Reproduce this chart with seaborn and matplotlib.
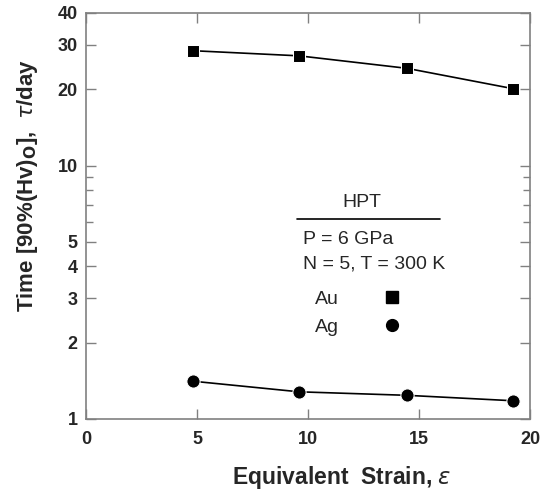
import matplotlib
matplotlib.use("Agg")
import matplotlib.pyplot as plt
from matplotlib.lines import Line2D
from matplotlib.ticker import FixedLocator, NullFormatter
import numpy as np
import pandas as pd
import seaborn as sns

strain = [4.8, 9.6, 14.45, 19.25]
au_time = [28.4, 27.1, 24.2, 20.1]
ag_time = [1.41, 1.28, 1.24, 1.18]
yticks = [1, 2, 3, 4, 5, 10, 20, 30, 40]
yminor = [6, 7, 8, 9]
xticks = [0, 5, 10, 15, 20]

df = pd.DataFrame({
    "strain": strain * 2,
    "time": au_time + ag_time,
    "metal": ["Au"] * 4 + ["Ag"] * 4,
})

sns.set_style("ticks")
plt.rcParams["font.family"] = ["Liberation Sans", "DejaVu Sans"]

fig = plt.figure(figsize=(5.53, 4.92), dpi=100)
ax = fig.add_axes([0.1555, 0.1484, 0.8029, 0.8252])

sns.lineplot(data=df[df.metal == "Au"], x="strain", y="time", color="black",
             marker="s", markersize=9, linewidth=1.2, ax=ax)
sns.lineplot(data=df[df.metal == "Ag"], x="strain", y="time", color="black",
             marker="o", markersize=9.5, linewidth=1.2, ax=ax)

ax.set_yscale("log")
ax.set_xlim(0, 20)
ax.set_ylim(1, 40)
ax.yaxis.set_major_locator(FixedLocator(yticks))
ax.yaxis.set_minor_locator(FixedLocator(yminor))
ax.yaxis.set_minor_formatter(NullFormatter())
ax.set_yticklabels([str(t) for t in yticks])
ax.set_xticks(xticks)
ax.set_xticklabels([str(t) for t in xticks])

for s in ax.spines.values():
    s.set_color("#808080")
    s.set_linewidth(1.2)
ax.tick_params(which="both", direction="in", top=True, right=True,
               color="#808080", labelsize=13)
ax.tick_params(axis="x", pad=9)
ax.tick_params(axis="y", pad=6)
ax.tick_params(which="major", length=7, width=1)
ax.tick_params(which="minor", length=5, width=1)
for lab in ax.get_xticklabels() + ax.get_yticklabels():
    lab.set_fontweight("bold")

ax.set_xlabel(r"Equivalent  Strain, $\mathit{\varepsilon}$", fontsize=16.5,
              fontweight="bold")
ax.xaxis.set_label_coords(0.577, -0.145)
ax.xaxis.label.set_va("center")
ax.set_ylabel(r"Time [90%(Hv)$_\mathbf{O}$],  $\mathit{\tau}$/day", fontsize=16,
              fontweight="bold")
ax.yaxis.set_label_coords(-0.131, 0.576)
ax.yaxis.label.set_va("center")

ax.text(0.622, 0.532, "HPT", fontsize=14, ha="center", va="center",
        transform=ax.transAxes)
ax.plot([0.475, 0.797], [0.493, 0.493], color="black", linewidth=1.2,
        transform=ax.transAxes)
ax.text(0.488, 0.441, "P = 6 GPa", fontsize=14, ha="left", va="center",
        transform=ax.transAxes)
ax.text(0.488, 0.382, "N = 5, T = 300 K", fontsize=14, ha="left", va="center",
        transform=ax.transAxes)

handles = [Line2D([], [], color="black", marker="s", linestyle="none", markersize=8.5),
           Line2D([], [], color="black", marker="o", linestyle="none", markersize=8.5)]
ax.legend(handles, ["Au", "Ag"], loc="upper left", bbox_to_anchor=(0.516, 0.317),
          frameon=False, markerfirst=False, fontsize=14, handletextpad=1.73,
          labelspacing=0.55, borderpad=0, borderaxespad=0)

fig.savefig("out.png", dpi=100)
